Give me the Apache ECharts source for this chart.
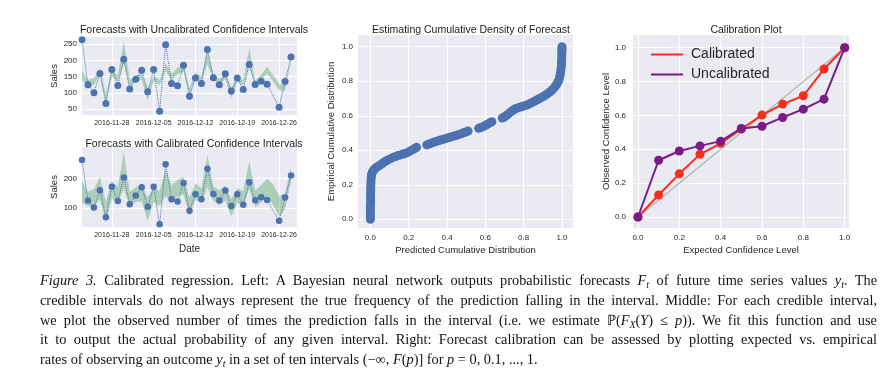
<!DOCTYPE html>
<html>
<head>
<meta charset="utf-8">
<script src="https://cdn.jsdelivr.net/npm/echarts@6/dist/echarts.min.js"></script>
<style>
  html, body { margin: 0; padding: 0; background: #fff; }
  #wrap { position: relative; width: 896px; height: 390px; overflow: hidden; }
  #chart { position: absolute; left: 0; top: 0; width: 896px; height: 390px; }
  #cap { position: absolute; left: 40px; top: 271px; width: 837px; font-family: 'Liberation Serif', 'Times New Roman', serif; font-size: 14.3px; color: #111; line-height: 19.8px; }
  #cap div { white-space: nowrap; height: 19.8px; }
  #cap sub { font-size: 70%; vertical-align: -3px; line-height: 0; }
</style>
</head>
<body>
<div id="wrap">
  <div id="chart"></div>
  <div id="cap">
    <div><span class="l"><i>Figure 3.</i> Calibrated regression. Left: A Bayesian neural network outputs probabilistic forecasts <i>F<sub>t</sub></i> of future time series values <i>y<sub>t</sub></i>. The</span></div>
    <div><span class="l">credible intervals do not always represent the true frequency of the prediction falling in the interval. Middle: For each credible interval,</span></div>
    <div><span class="l">we plot the observed number of times the prediction falls in the interval (i.e. we estimate ℙ(<i>F<sub>X</sub></i>(<i>Y</i>) ≤ <i>p</i>)). We fit this function and use</span></div>
    <div><span class="l">it to output the actual probability of any given interval. Right: Forecast calibration can be assessed by plotting expected vs. empirical</span></div>
    <div><span class="last">rates of observing an outcome <i>y<sub>t</sub></i> in a set of ten intervals (−∞, <i>F</i>(<i>p</i>)] for <i>p</i> = 0, 0.1, ..., 1.</span></div>
  </div>
</div>
<script>
// ---------- DATA ----------
const dates = ['2016-11-23','2016-11-24','2016-11-25','2016-11-26','2016-11-27','2016-11-28','2016-11-29','2016-11-30',
  '2016-12-01','2016-12-02','2016-12-03','2016-12-04','2016-12-05','2016-12-06','2016-12-07','2016-12-08','2016-12-09',
  '2016-12-10','2016-12-11','2016-12-12','2016-12-13','2016-12-14','2016-12-15','2016-12-16','2016-12-17','2016-12-18',
  '2016-12-19','2016-12-20','2016-12-21','2016-12-22','2016-12-23','2016-12-24','2016-12-25','2016-12-26','2016-12-27',
  '2016-12-28','2016-12-29'];
const tickDates = ['2016-11-28','2016-12-05','2016-12-12','2016-12-19','2016-12-26'];
const sales = [263,125,101,160,68,172,123,203,112,142,170,104,172,44,248,129,122,185,90,146,129,233,147,125,159,106,146,111,187,126,136,127,null,56,135,210];
const uncalLower = [140,120,125,155,73,150,135,190,120,137,140,77,137,124,168,138,158,165,95,147,134,188,140,127,142,85,134,124,187,122,140,160,135,108,107,200];
const uncalUpper = [170,140,145,175,97,170,155,260,140,153,160,113,153,140,192,158,178,185,115,163,150,232,156,143,158,115,150,140,237,138,156,180,155,128,123,210];
const calLower = [117,105,107,128,50,130,117,165,105,120,122,55,120,107,140,120,140,145,75,127,117,170,123,110,125,70,117,107,165,102,118,140,110,70,95,190];
const calUpper = [193,155,163,205,120,190,173,290,155,170,178,135,170,157,230,176,196,205,135,183,167,280,173,160,175,130,167,157,258,158,178,200,180,140,150,240];
const salesTicksTop = [50,100,150,200,250];
const salesTicksBottom = [100,200];

const predictedCdf = [0.000,0.000,0.000,0.000,0.000,0.000,0.001,0.001,0.001,0.001,0.001,0.002,0.002,0.002,0.003,0.003,0.004,0.005,0.007,0.010,
  0.014,0.019,0.025,0.032,0.040,0.049,0.058,0.067,0.076,0.086,0.097,0.108,0.120,0.132,0.144,0.156,0.168,0.180,0.192,0.203,0.213,0.223,0.232,0.241,
  0.294,0.306,0.318,0.330,0.342,0.354,0.366,0.378,0.390,0.402,0.414,0.426,0.438,0.450,0.462,0.474,0.486,0.498,0.510,
  0.565,0.577,0.589,0.601,0.613,0.624,0.634,
  0.688,0.698,0.708,0.718,0.728,0.738,0.749,0.760,0.772,0.784,0.796,0.808,0.820,0.832,0.844,0.856,0.868,0.880,0.892,0.904,0.916,0.927,0.938,0.948,0.957,
  0.965,0.972,0.978,0.983,0.987,0.990,0.992,0.994,0.996,0.997,0.998,0.998,0.999,0.999,0.999,1.000,1.000,1.000];
const empiricalCdf = [0.000,0.015,0.030,0.045,0.060,0.075,0.090,0.105,0.120,0.135,0.150,0.165,0.180,0.195,0.210,0.225,0.240,0.252,0.263,0.272,
  0.280,0.288,0.295,0.301,0.307,0.313,0.320,0.327,0.334,0.341,0.347,0.353,0.359,0.364,0.369,0.373,0.377,0.381,0.386,0.392,0.399,0.405,0.411,0.417,
  0.431,0.436,0.441,0.446,0.451,0.455,0.459,0.463,0.467,0.471,0.475,0.479,0.483,0.487,0.492,0.496,0.501,0.506,0.511,
  0.527,0.532,0.538,0.545,0.552,0.559,0.565,
  0.587,0.592,0.600,0.609,0.618,0.627,0.635,0.642,0.647,0.651,0.655,0.659,0.664,0.670,0.677,0.684,0.691,0.698,0.705,0.713,0.721,0.730,0.739,0.749,0.759,
  0.770,0.781,0.793,0.806,0.820,0.835,0.850,0.865,0.880,0.895,0.910,0.925,0.940,0.955,0.970,0.980,0.990,1.000];

const levels = [0,0.1,0.2,0.3,0.4,0.5,0.6,0.7,0.8,0.9,1.0];
const calibrated = [0,0.13,0.255,0.37,0.435,0.52,0.602,0.667,0.716,0.874,1.0];
const uncalibrated = [0,0.335,0.39,0.42,0.448,0.523,0.536,0.588,0.637,0.696,1.0];
const unitTicks = [0,0.2,0.4,0.6,0.8,1.0];

// ---------- STYLE ----------
const FF = "'Liberation Sans', Arial, Helvetica, sans-serif";
const TXT = '#262626';
const BG = '#EAEAF2';
const BLUE = '#4c72b0';
const BAND = 'rgba(85,168,104,0.42)';
const RED = '#fc2c1c';
const PURPLE = '#7a1b89';

function isTick(idx, val) { return tickDates.indexOf(val) >= 0; }

function dateAxis(gi, withName) {
  return {
    type: 'category', gridIndex: gi, data: dates, boundaryGap: false,
    axisLine: {show: false}, axisTick: {show: false},
    axisLabel: {interval: isTick, fontSize: 7, color: TXT, fontFamily: FF, margin: 5},
    splitLine: {show: true, interval: isTick, lineStyle: {color: '#fff', width: 1}},
    name: withName ? 'Date' : '', nameLocation: 'middle', nameGap: 17,
    nameTextStyle: {fontSize: 10, color: TXT, fontFamily: FF}
  };
}
function valAxis(gi, min, max, ticks, name, gap, fmt, margin) {
  return {
    type: 'value', gridIndex: gi, min: min, max: max,
    axisLine: {show: false},
    axisTick: {show: false, customValues: ticks},
    axisLabel: {customValues: ticks, fontSize: 8, color: TXT, fontFamily: FF, margin: margin,
      formatter: fmt || (v => String(v))},
    splitLine: {show: true, lineStyle: {color: '#fff', width: 1}},
    name: name, nameLocation: 'middle', nameGap: gap,
    nameTextStyle: {fontSize: 9.5, color: TXT, fontFamily: FF}
  };
}
const f1 = v => v.toFixed(1);

function bandSeries(gi, lower, upper, stackName) {
  return [
    {type: 'line', xAxisIndex: gi, yAxisIndex: gi, data: lower, stack: stackName, symbol: 'none',
      lineStyle: {opacity: 0}, silent: true, z: 1},
    {type: 'line', xAxisIndex: gi, yAxisIndex: gi, data: upper.map((v, i) => v - lower[i]), stack: stackName,
      symbol: 'none', lineStyle: {opacity: 0}, areaStyle: {color: BAND, opacity: 1}, silent: true, z: 1}
  ];
}
function salesSeries(gi, size) {
  return {type: 'line', xAxisIndex: gi, yAxisIndex: gi, data: sales, connectNulls: true,
    symbol: 'circle', symbolSize: size, showAllSymbol: true, itemStyle: {color: BLUE},
    lineStyle: {color: BLUE, width: 1, type: 'dotted'}, z: 3};
}

const titleStyle = {fontSize: 10.5, fontWeight: 'normal', color: '#1a1a1a', fontFamily: FF};
const option = {
  animation: false,
  backgroundColor: '#fff',
  title: [
    {text: 'Forecasts with Uncalibrated Confidence Intervals', left: 189, top: 20, textAlign: 'center', textStyle: titleStyle},
    {text: 'Forecasts with Calibrated Confidence Intervals', left: 189, top: 134, textAlign: 'center', textStyle: titleStyle},
    {text: 'Estimating Cumulative Density of Forecast', left: 466, top: 20, textAlign: 'center', textStyle: titleStyle},
    {text: 'Calibration Plot', left: 741, top: 20, textAlign: 'center', textStyle: titleStyle}
  ],
  legend: {
    data: ['Calibrated', 'Uncalibrated'], orient: 'vertical', left: 646, top: 41,
    icon: 'rect', itemWidth: 32, itemHeight: 2, itemGap: 3,
    textStyle: {fontSize: 14, color: TXT, fontFamily: FF, lineHeight: 17, padding: [0, 0, 0, 3]}
  },
  grid: [
    {left: 82, top: 37, width: 215, height: 78, show: true, backgroundColor: BG, borderWidth: 0},
    {left: 82, top: 147, width: 215, height: 80, show: true, backgroundColor: BG, borderWidth: 0},
    {left: 358, top: 35, width: 215, height: 193, show: true, backgroundColor: BG, borderWidth: 0},
    {left: 633, top: 35, width: 216, height: 193, show: true, backgroundColor: BG, borderWidth: 0}
  ],
  xAxis: [
    dateAxis(0, false),
    dateAxis(1, true),
    valAxis(2, -0.0647, 1.0574, unitTicks, 'Predicted Cumulative Distribution', 17, f1, 6),
    valAxis(3, -0.024, 1.021, unitTicks, 'Expected Confidence Level', 17, f1, 6)
  ],
  yAxis: [
    valAxis(0, 32.5, 271.5, salesTicksTop, 'Sales', 22, null, 5),
    valAxis(1, 35, 307, salesTicksBottom, 'Sales', 22, null, 5),
    valAxis(2, -0.0505, 1.068, unitTicks, 'Empirical Cumulative Distribution', 22, f1, 5),
    valAxis(3, -0.065, 1.075, unitTicks, 'Observed Confidence Level', 21, f1, 7)
  ],
  series: [
    ...bandSeries(0, uncalLower, uncalUpper, 'u'),
    salesSeries(0, 7),
    ...bandSeries(1, calLower, calUpper, 'c'),
    salesSeries(1, 6.5),
    {type: 'scatter', xAxisIndex: 2, yAxisIndex: 2, symbolSize: 9,
      itemStyle: {color: BLUE, opacity: 1},
      data: predictedCdf.map((x, i) => [x, empiricalCdf[i]])},
    {type: 'line', xAxisIndex: 3, yAxisIndex: 3, data: [[0, 0], [1, 1]], symbol: 'none', silent: true,
      lineStyle: {color: '#b3b3b3', width: 1.2}, z: 1},
    {name: 'Calibrated', type: 'line', xAxisIndex: 3, yAxisIndex: 3, color: RED,
      data: levels.map((x, i) => [x, calibrated[i]]), symbol: 'circle', symbolSize: 9,
      itemStyle: {color: RED}, lineStyle: {color: RED, width: 2}, z: 2},
    {name: 'Uncalibrated', type: 'line', xAxisIndex: 3, yAxisIndex: 3, color: PURPLE,
      data: levels.map((x, i) => [x, uncalibrated[i]]), symbol: 'circle', symbolSize: 9,
      itemStyle: {color: PURPLE}, lineStyle: {color: PURPLE, width: 2}, z: 3}
  ]
};

const chart = echarts.init(document.getElementById('chart'), null, {renderer: 'canvas'});
chart.setOption(option);

// size caption so that the last (unjustified) line has the reference length,
// then justify the other lines to the full measure
(function () {
  const cap = document.getElementById('cap');
  const target = 837;
  const lastTarget = 498;
  const base = 14.3;
  cap.style.fontSize = base + 'px';
  const last = document.querySelector('#cap span.last');
  const lines = [...document.querySelectorAll('#cap span.l')];
  let fs = base * lastTarget / last.getBoundingClientRect().width;
  cap.style.fontSize = fs + 'px';
  let over = 1;
  lines.forEach(sp => { over = Math.max(over, sp.getBoundingClientRect().width / target); });
  if (over > 1) cap.style.fontSize = (fs / over) + 'px';
  lines.forEach(sp => {
    sp.style.wordSpacing = '0px';
    const w = sp.getBoundingClientRect().width;
    const spaces = (sp.textContent.match(/ /g) || []).length;
    if (spaces > 0) sp.style.wordSpacing = ((target - w) / spaces) + 'px';
  });
})();
</script>
</body>
</html>
